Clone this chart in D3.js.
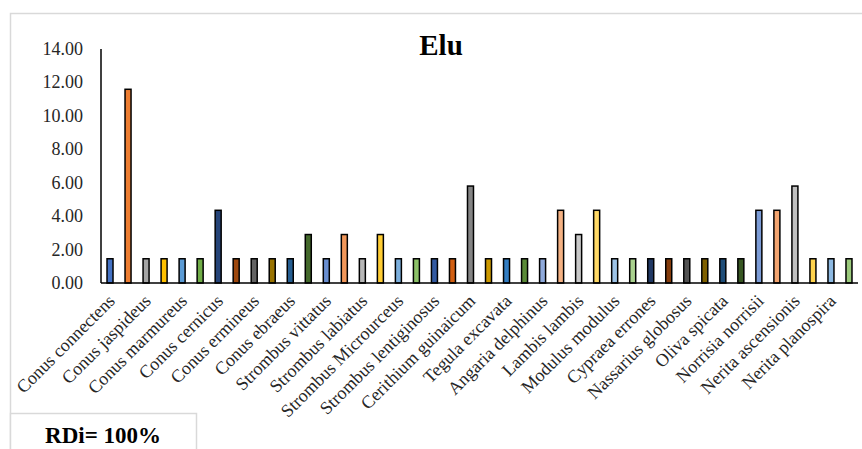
<!DOCTYPE html>
<html><head><meta charset="utf-8">
<script src="https://cdn.jsdelivr.net/npm/d3@7"></script>
<style>
html,body{margin:0;padding:0;background:#fff;}
svg{display:block;}
svg text{font-family:'Liberation Serif','Times New Roman','DejaVu Serif',serif;}
</style></head>
<body>
<svg id="chart" width="862" height="449"></svg>
<script>
const title = "Elu";
const boxLabel = "RDi= 100%";
const labels = ["Conus connectens","Conus jaspideus","Conus marmureus","Conus cernicus","Conus ermineus","Conus ebraeus","Strombus vittatus","Strombus labiatus","Strombus Microurceus","Strombus lentiginosus","Cerithium guinaicum","Tegula excavata","Angaria delphinus","Lambis lambis","Modulus modulus","Cypraea errones","Nassarius globosus","Oliva spicata","Norrisia norrisii","Nerita ascensionis","Nerita planospira"];
const values = [1.45,11.59,1.45,1.45,1.45,1.45,4.35,1.45,1.45,1.45,1.45,2.90,1.45,2.90,1.45,2.90,1.45,1.45,1.45,1.45,5.80,1.45,1.45,1.45,1.45,4.35,2.90,4.35,1.45,1.45,1.45,1.45,1.45,1.45,1.45,1.45,4.35,4.35,5.80,1.45,1.45,1.45];
const colors = ["#4472C4","#ED7D31","#A5A5A5","#FFC000","#5B9BD5","#70AD47",
"#264478","#9E480E","#636363","#997300","#255E91","#43682B",
"#698ED0","#F1975A","#B7B7B7","#FFCD33","#7CAFDD","#8CC168",
"#335AA1","#D25F12","#848484","#CC9900","#327DC2","#5A8A38",
"#8FAADC","#F4B183","#C9C9C9","#FFD966","#9DC3E6","#A9D18E",
"#203864","#843C0C","#525252","#7F6000","#1F4E79","#385723",
"#7C9CD6","#F3A46F","#C0C0C0","#FFD34D","#8DB9E2","#9BCA7C"];
const yTicks = [0,2,4,6,8,10,12,14];

const FONT = "'Liberation Serif','Times New Roman','DejaVu Serif',serif";
const svg = d3.select("#chart");
const pLeft = 101, pRight = 858, pTop = 49, pBottom = 283;
const x = d3.scaleBand().domain(d3.range(values.length)).range([pLeft, pRight]).padding(0);
const y = d3.scaleLinear().domain([0,14]).range([pBottom, pTop]);
const bw = 6;

// outer chart border
svg.append("path").attr("d","M10.5,449 L10.5,13.5 L862,13.5").attr("fill","none").attr("stroke","#d9d9d9").attr("stroke-width",1.5);

// title
svg.append("text").attr("x",441).attr("y",55).attr("text-anchor","middle").style("font-family",FONT)
  .attr("font-size",29).attr("font-weight","bold").attr("fill","#000").text(title);

// y axis labels
svg.append("g").selectAll("text").data(yTicks).join("text")
  .attr("x",83).attr("y",d=>y(d)+6).attr("text-anchor","end").style("font-family",FONT)
  .attr("font-size",18).attr("fill","#262626").text(d=>d.toFixed(2));

// bars
svg.append("g").selectAll("rect").data(values).join("rect")
  .attr("x",(d,i)=>x(i)+(x.bandwidth()-bw)/2)
  .attr("y",d=>y(d))
  .attr("width",bw)
  .attr("height",d=>pBottom-y(d))
  .attr("fill",(d,i)=>colors[i])
  .attr("stroke","#000").attr("stroke-width",1.5);

// axis lines
svg.append("line").attr("x1",pLeft).attr("x2",pLeft).attr("y1",pTop).attr("y2",pBottom).attr("stroke","#000").attr("stroke-width",1.5);
svg.append("line").attr("x1",pLeft).attr("x2",pRight).attr("y1",pBottom).attr("y2",pBottom).attr("stroke","#000").attr("stroke-width",1.5);

// x labels (every other category)
svg.append("g").selectAll("text").data(labels).join("text")
  .attr("transform",(d,i)=>`translate(${x(i*2)+x.bandwidth()/2+6},${pBottom+19}) rotate(-45)`)
  .attr("text-anchor","end").style("font-family",FONT).attr("font-size",18).attr("fill","#262626").text(d=>d);

// RDi box
svg.append("path").attr("d","M10.5,449 L10.5,413.5 L196.5,413.5 L196.5,449").attr("fill","#fff").attr("stroke","#d9d9d9").attr("stroke-width",1.5);
svg.append("text").attr("x",103).attr("y",443).attr("text-anchor","middle").style("font-family",FONT)
  .attr("font-size",23).attr("font-weight","bold").attr("fill","#000").text(boxLabel);
</script>
</body></html>
